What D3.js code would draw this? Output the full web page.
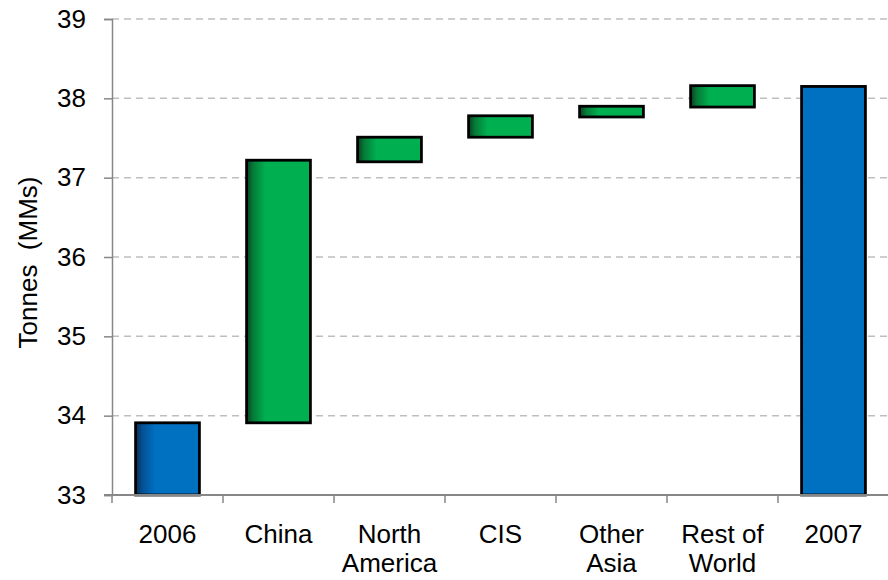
<!DOCTYPE html>
<html>
<head>
<meta charset="utf-8">
<script src="https://cdn.jsdelivr.net/npm/d3@7"></script>
<style>
  html, body { margin: 0; padding: 0; background: #fff; }
  svg { display: block; font-family: "Liberation Sans", Arial, sans-serif; }
</style>
</head>
<body>
<svg id="chart" width="888" height="580"></svg>
<script>
// Aluminium consumption bridge 2006 -> 2007 (million tonnes)
const categories = ["2006", "China", "North\nAmerica", "CIS", "Other\nAsia", "Rest of\nWorld", "2007"];
const lowValues  = [33.00, 33.91, 37.20, 37.51, 37.765, 37.89, 33.00];
const highValues = [33.91, 37.22, 37.51, 37.78, 37.90, 38.16, 38.15];
const barKinds   = ["total", "delta", "delta", "delta", "delta", "delta", "total-flat"];
const yTicks     = [33, 34, 35, 36, 37, 38, 39];

const svg = d3.select("#chart");
const margin = { left: 112, right: 0, top: 19, bottom: 85 };
const W = 888, H = 580;
const FONT = 26;

const x = d3.scaleBand()
  .domain(categories)
  .range([margin.left, 889])
  .paddingInner(0.425)
  .paddingOuter(0.2125);

const y = d3.scaleLinear().domain([33, 39]).range([H - margin.bottom, margin.top]);

// gradients: dark left edge fading into the fill
const defs = svg.append("defs");
function edgeGradient(id, dark, mid, base) {
  const g = defs.append("linearGradient").attr("id", id)
    .attr("x1", "0%").attr("x2", "100%").attr("y1", "0%").attr("y2", "0%");
  g.append("stop").attr("offset", "0%").attr("stop-color", dark);
  g.append("stop").attr("offset", "10%").attr("stop-color", mid);
  g.append("stop").attr("offset", "30%").attr("stop-color", base);
  g.append("stop").attr("offset", "100%").attr("stop-color", base);
}
edgeGradient("gGreen", "#08401f", "#057a38", "#00b050");
edgeGradient("gBlue", "#082c50", "#054f92", "#0070c0");

const fillFor = k => k === "delta" ? "url(#gGreen)" : (k === "total" ? "url(#gBlue)" : "#0070c0");

// gridlines
svg.append("g")
  .selectAll("line")
  .data(yTicks.filter(t => t !== 33))
  .join("line")
  .attr("x1", margin.left).attr("x2", W)
  .attr("y1", d => y(d)).attr("y2", d => y(d))
  .attr("stroke", "#bfbfbf").attr("stroke-width", 1.5)
  .attr("stroke-dasharray", "7,5");

// y axis
const yAxis = svg.append("g")
  .attr("transform", `translate(${margin.left},0)`)
  .call(d3.axisLeft(y).tickValues(yTicks).tickSize(8).tickPadding(18).tickFormat(d3.format("d")));
yAxis.select(".domain").attr("stroke", "#878787").attr("stroke-width", 1.5);
yAxis.selectAll(".tick line").attr("stroke", "#878787").attr("stroke-width", 1.5);
yAxis.selectAll(".tick text")
  .attr("font-size", FONT).attr("fill", "#000")
  .attr("font-family", "Liberation Sans, Arial, sans-serif");

// axis title
svg.append("text")
  .attr("transform", `translate(37,${(173 + 352) / 2}) rotate(-90)`)
  .attr("text-anchor", "middle")
  .attr("font-size", FONT)
  .attr("fill", "#000")
  .attr("xml:space", "preserve")
  .text("Tonnes  (MMs)");

// bars
const rows = categories.map((c, i) => ({ c, lo: lowValues[i], hi: highValues[i], kind: barKinds[i] }));
svg.append("g")
  .selectAll("rect")
  .data(rows)
  .join("rect")
  .attr("x", d => x(d.c))
  .attr("width", x.bandwidth())
  .attr("y", d => y(d.hi))
  .attr("height", d => y(d.lo) - y(d.hi))
  .attr("fill", d => fillFor(d.kind))
  .attr("stroke", "#000")
  .attr("stroke-width", 2.8);

// x axis line and category boundary ticks
const baseY = y(33);
svg.append("line")
  .attr("x1", margin.left - 8).attr("x2", W)
  .attr("y1", baseY).attr("y2", baseY)
  .attr("stroke", "#878787").attr("stroke-width", 2);
const step = x.step();
svg.append("g")
  .selectAll("line")
  .data(d3.range(categories.length + 1))
  .join("line")
  .attr("x1", i => margin.left + i * step).attr("x2", i => margin.left + i * step)
  .attr("y1", baseY).attr("y2", baseY + 8)
  .attr("stroke", "#878787").attr("stroke-width", 1.5);

// category labels
const labels = svg.append("g")
  .selectAll("text")
  .data(categories)
  .join("text")
  .attr("x", d => x(d) + x.bandwidth() / 2)
  .attr("y", 543)
  .attr("text-anchor", "middle")
  .attr("font-size", FONT)
  .attr("fill", "#000");
labels.each(function (d) {
  const t = d3.select(this);
  d.split("\n").forEach((line, i) => {
    t.append("tspan")
      .attr("x", x(d) + x.bandwidth() / 2)
      .attr("dy", i === 0 ? 0 : 29)
      .text(line);
  });
});
</script>
</body>
</html>
